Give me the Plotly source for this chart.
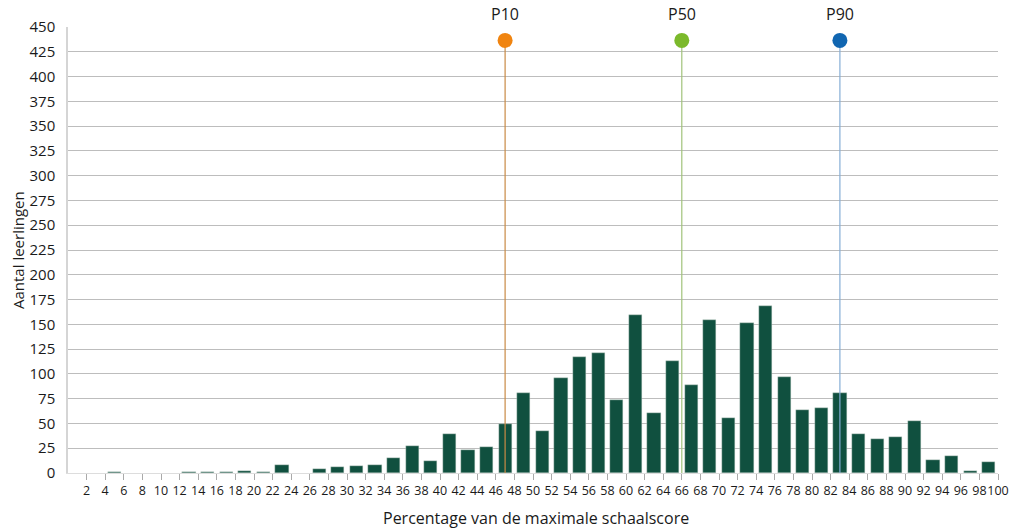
import plotly.graph_objects as go

# Data
score_pct = [5, 13, 15, 17, 19, 21, 23, 27, 29, 31, 33, 35, 37, 39, 41, 43, 45, 47, 49, 51,
             53, 55, 57, 59, 61, 63, 65, 67, 69, 71, 73, 75, 77, 79, 81, 83, 85, 87, 89, 91,
             93, 95, 97, 99]
n_students = [1.5, 1, 1.5, 1, 2.5, 1.5, 8.5, 3.7, 6, 7, 8, 15, 27, 12, 39, 23, 26, 49, 81, 42,
              96, 117, 121, 74, 159, 61, 113, 89, 154, 56, 151, 168, 97, 64, 66, 81, 39, 34, 36, 52,
              13, 17, 2, 11]
pct_labels = ["P10", "P50", "P90"]
pct_values = [47, 66, 83]
pct_marker_y = 436.5
pct_colors = ["#F08410", "#7BB92B", "#1166B1"]
pct_line_colors = ["#C98A45", "#A0C27A", "#86AED6"]
x_ticks = list(range(2, 101, 2))
y_ticks = list(range(0, 451, 25))

FONT = "Open Sans"
TXT = "#1a1a1a"

W, H = 1012, 531
L, T = 68, 27
R = W - 998
B = H - 473
PW, PH = W - L - R, H - T - B


def px_to_paper_y(py):
    return (H - B - py) / PH


def px_to_paper_x(px):
    return (px - L) / PW


fig = go.Figure()
fig.add_trace(go.Bar(
    x=score_pct, y=n_students, width=1.42,
    marker=dict(color="#10503F", line=dict(color="#C9D3CF", width=0.4)),
    showlegend=False,
))

for lab, val, col, lcol in zip(pct_labels, pct_values, pct_colors, pct_line_colors):
    fig.add_trace(go.Scatter(
        x=[val, val], y=[0, pct_marker_y], mode="lines",
        line=dict(color=lcol, width=1.2), showlegend=False,
    ))
    fig.add_trace(go.Scatter(
        x=[val], y=[pct_marker_y], mode="markers",
        marker=dict(color=col, size=15, line=dict(width=0)),
        showlegend=False, cliponaxis=False,
    ))
    fig.add_annotation(x=val, xref="x", y=px_to_paper_y(14), yref="paper", text=lab,
                       showarrow=False, yanchor="middle", borderpad=0,
                       font=dict(family=FONT, size=16, color=TXT))

fig.add_annotation(x=px_to_paper_x(536), xref="paper",
                   y=px_to_paper_y(518), yref="paper",
                   text="Percentage van de maximale schaalscore", showarrow=False,
                   yanchor="middle", xanchor="center", borderpad=0,
                   font=dict(family=FONT, size=16, color=TXT))
fig.add_annotation(x=px_to_paper_x(18), xref="paper",
                   y=px_to_paper_y(250), yref="paper",
                   text="Aantal leerlingen", showarrow=False, textangle=-90,
                   yanchor="middle", xanchor="center", borderpad=0,
                   font=dict(family=FONT, size=15, color=TXT))

fig.update_layout(
    width=W, height=H,
    margin=dict(l=L, r=R, t=T, b=B, autoexpand=False),
    plot_bgcolor="white", paper_bgcolor="white",
    font=dict(family=FONT, color=TXT),
    bargap=0,
)
fig.update_xaxes(
    range=[0, 100], tickvals=x_ticks, ticktext=[str(v) for v in x_ticks],
    tickangle=0, automargin=False,
    ticks="outside", ticklen=6, tickcolor="#AAAAAA", tickwidth=1,
    showgrid=False, zeroline=False, showline=True, linecolor="#DDDDDD", linewidth=1,
    tickfont=dict(family=FONT, size=12.5, color=TXT),
)
fig.update_yaxes(
    range=[0, 450], tickvals=y_ticks, automargin=False,
    showgrid=True, gridcolor="#BDBDBD", gridwidth=1,
    zeroline=False, showline=True, linecolor="#D5D5D5", linewidth=1.5,
    ticks="", ticklabelstandoff=8,
    tickfont=dict(family=FONT, size=15, color=TXT),
)

# remove the default 8px page margin so the figure fills the window exactly
fig.write_html("out.html", config={"displayModeBar": False},
               post_script="document.body.style.margin='0';")
